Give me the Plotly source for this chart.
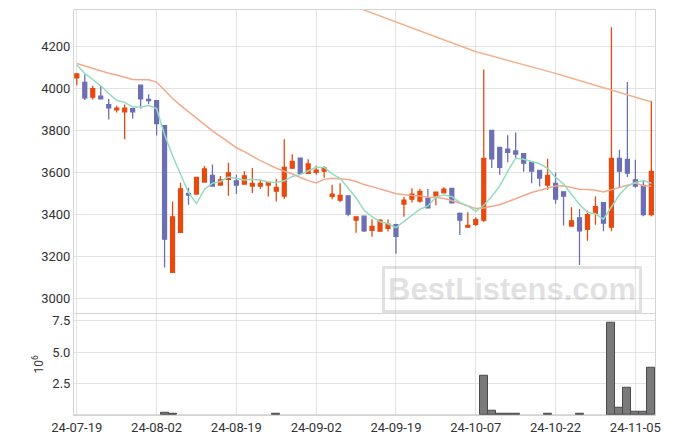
import pandas as pd
import plotly.graph_objects as go
from plotly.subplots import make_subplots

dates = [
    "24-07-19", "24-07-22", "24-07-23", "24-07-24", "24-07-25", "24-07-26", "24-07-29", "24-07-30",
    "24-07-31", "24-08-01", "24-08-02", "24-08-05", "24-08-06", "24-08-07", "24-08-08", "24-08-09",
    "24-08-12", "24-08-13", "24-08-14", "24-08-16", "24-08-19", "24-08-20", "24-08-21", "24-08-22",
    "24-08-23", "24-08-26", "24-08-27", "24-08-28", "24-08-29", "24-08-30", "24-09-02", "24-09-03",
    "24-09-04", "24-09-05", "24-09-06", "24-09-09", "24-09-10", "24-09-11", "24-09-12", "24-09-13",
    "24-09-19", "24-09-20", "24-09-23", "24-09-24", "24-09-25", "24-09-26", "24-09-27", "24-09-30",
    "24-10-02", "24-10-04", "24-10-07", "24-10-08", "24-10-10", "24-10-11", "24-10-14", "24-10-15",
    "24-10-16", "24-10-17", "24-10-18", "24-10-21", "24-10-22", "24-10-23", "24-10-24", "24-10-25",
    "24-10-28", "24-10-29", "24-10-30", "24-10-31", "24-11-01", "24-11-04", "24-11-05", "24-11-06",
    "24-11-07",
]

opens = [4049, 4027, 3957, 3962, 3922, 3897, 3887, 3903, 4014, 3946,
         3941, 3822, 3126, 3316, 3500, 3497, 3554, 3586, 3540, 3567,
         3560, 3544, 3535, 3535, 3540, 3511, 3487, 3621, 3668, 3595,
         3600, 3606, 3486, 3468, 3489, 3373, 3392, 3325, 3321, 3335,
         3352, 3449, 3473, 3464, 3476, 3489, 3503, 3524, 3405, 3340,
         3354, 3373, 3800, 3719, 3710, 3702, 3689, 3648, 3610, 3540,
         3548, 3508, 3345, 3384, 3330, 3406, 3457, 3340, 3667, 3662,
         3565, 3538, 3400]
highs = [4070, 4065, 4011, 4011, 3949, 3916, 3922, 3905, 4016, 3971,
         3943, 3824, 3462, 3551, 3527, 3578, 3630, 3638, 3583, 3646,
         3589, 3605, 3621, 3564, 3554, 3570, 3757, 3686, 3671, 3662,
         3632, 3629, 3541, 3548, 3491, 3391, 3395, 3378, 3378, 3376,
         3356, 3483, 3525, 3522, 3521, 3508, 3530, 3526, 3410, 3411,
         3387, 4089, 3802, 3721, 3776, 3790, 3692, 3650, 3612, 3665,
         3600, 3510, 3435, 3426, 3419, 3487, 3459, 4289, 3708, 4029,
         3660, 3560, 3940]
lows = [4014, 3944, 3946, 3948, 3851, 3884, 3757, 3856, 3903, 3924,
        3775, 3149, 3124, 3314, 3446, 3495, 3552, 3533, 3538, 3489,
        3498, 3542, 3502, 3522, 3486, 3462, 3475, 3616, 3594, 3592,
        3589, 3575, 3473, 3459, 3392, 3313, 3317, 3294, 3318, 3319,
        3214, 3389, 3457, 3456, 3430, 3444, 3502, 3455, 3303, 3337,
        3345, 3364, 3621, 3589, 3648, 3664, 3603, 3549, 3533, 3518,
        3451, 3348, 3343, 3160, 3275, 3352, 3321, 3321, 3530, 3578,
        3527, 3392, 3392]
closes = [4068, 3954, 3998, 3949, 3906, 3905, 3905, 3887, 3949, 3941,
          3832, 3283, 3389, 3522, 3492, 3576, 3617, 3535, 3565, 3598,
          3540, 3584, 3548, 3548, 3552, 3529, 3624, 3652, 3595, 3640,
          3611, 3621, 3497, 3491, 3402, 3389, 3322, 3344, 3373, 3354,
          3297, 3468, 3497, 3510, 3432, 3506, 3521, 3456, 3373, 3349,
          3376, 3667, 3664, 3624, 3695, 3687, 3644, 3606, 3573, 3586,
          3473, 3487, 3370, 3322, 3400, 3438, 3359, 3667, 3606, 3597,
          3535, 3400, 3605]

# volume in millions of shares
volumes = [0.004, 0.004, 0.004, 0.004, 0.004, 0.004, 0.004, 0.004, 0.004, 0.004,
           0.004, 0.18, 0.10, 0.004, 0.004, 0.004, 0.004, 0.004, 0.004, 0.004,
           0.004, 0.004, 0.004, 0.004, 0.004, 0.10, 0.004, 0.004, 0.004, 0.004,
           0.004, 0.004, 0.004, 0.004, 0.004, 0.004, 0.004, 0.004, 0.004, 0.004,
           0.004, 0.004, 0.004, 0.004, 0.004, 0.004, 0.004, 0.004, 0.004, 0.004,
           0.004, 3.15, 0.35, 0.10, 0.10, 0.10, 0.004, 0.004, 0.004, 0.08,
           0.004, 0.004, 0.004, 0.08, 0.004, 0.004, 0.004, 7.35, 0.60, 2.20,
           0.28, 0.28, 3.75]

# moving-average values at the start of the window (need earlier closes)
ma5_head = [4110, 4070, 4041, 4011]
ma20_head = [4117, 4105, 4094, 4083, 4071, 4062, 4051, 4041, 4040, 4040,
             4029, 3990, 3951, 3918, 3887, 3855, 3825, 3797, 3771]
# long moving average (only upper part visible)
ma120_start = 35
ma120_vals = [4385, 4371, 4357, 4343, 4329, 4316, 4302, 4288, 4274, 4260,
              4246, 4232, 4218, 4203, 4188, 4173, 4163, 4153, 4142, 4132,
              4122, 4111, 4101, 4091, 4080, 4070, 4059, 4047, 4036, 4025,
              4013, 4002, 3991, 3979, 3968, 3956, 3945, 3934]

cs = pd.Series(closes, dtype=float)
ma5 = ma5_head + list(cs.rolling(5).mean().iloc[len(ma5_head):])
ma20 = ma20_head + list(cs.rolling(20).mean().iloc[len(ma20_head):])
ma120 = [None] * ma120_start + ma120_vals

UP = "#E8490F"
DOWN = "#6B6FB4"
GRID = "#e3e3e3"
LINE = "#d4d4d4"

fig = make_subplots(rows=2, cols=1, shared_xaxes=True, vertical_spacing=0,
                    row_heights=[0.75, 0.25])

fig.add_trace(go.Candlestick(
    x=dates, open=opens, high=highs, low=lows, close=closes,
    increasing=dict(line=dict(color=UP, width=1.3), fillcolor=UP),
    decreasing=dict(line=dict(color=DOWN, width=1.3), fillcolor=DOWN),
    whiskerwidth=0, showlegend=False, name="price"), row=1, col=1)

fig.add_trace(go.Scatter(x=dates, y=ma20, mode="lines",
                         line=dict(color="#F2AA8C", width=1.5), showlegend=False), row=1, col=1)
fig.add_trace(go.Scatter(x=dates, y=ma120, mode="lines",
                         line=dict(color="#F0B38C", width=1.5), showlegend=False), row=1, col=1)
fig.add_trace(go.Scatter(x=dates, y=ma5, mode="lines",
                         line=dict(color="#93DCC0", width=1.5), showlegend=False), row=1, col=1)

bar_edge = [1 if v > 0.05 else 0 for v in volumes]
fig.add_trace(go.Bar(x=dates, y=volumes,
                     marker=dict(color="#7a7a7a", line=dict(color="#4a4a4a", width=bar_edge)),
                     showlegend=False), row=2, col=1)

tickv = dates[::10]
xrange = [-0.35, len(dates) - 1 + 0.46]
common_x = dict(type="category", range=xrange, tickvals=tickv, ticktext=tickv,
                showgrid=True, gridcolor=GRID, showline=True, linecolor=LINE, mirror=True,
                ticks="", automargin=False,
                tickfont=dict(family="Roboto", size=13, color="#333"))

fig.update_xaxes(**common_x)
fig.update_xaxes(showticklabels=False, rangeslider=dict(visible=False),
                 side="top", mirror=False, row=1, col=1)

fig.update_yaxes(range=[2929, 4371], tickvals=list(range(3000, 4201, 200)),
                 showgrid=True, gridcolor=GRID, zeroline=False, showline=True,
                 linecolor=LINE, mirror=True, ticks="", automargin=False,
                 tickfont=dict(family="Roboto", size=13, color="#333"), row=1, col=1)
fig.update_yaxes(range=[0, 8.05], tickvals=[2.5, 5.0, 7.5], ticktext=["2.5", "5.0", "7.5"],
                 showgrid=True, gridcolor=GRID, zeroline=False, showline=True,
                 linecolor=LINE, mirror=True, ticks="", automargin=False,
                 title=dict(text="10<sup>6</sup>", font=dict(family="Roboto", size=12, color="#333"),
                            standoff=6),
                 tickfont=dict(family="Roboto", size=13, color="#333"), row=2, col=1)

fig.add_annotation(xref="paper", yref="paper", x=0.754, y=0.311, text="<b>BestListens.com</b>",
                   showarrow=False, font=dict(family="Liberation Sans", size=31, color="rgba(170,170,170,0.35)"),
                   bordercolor="rgba(170,170,170,0.35)", borderwidth=3, borderpad=3,
                   xanchor="center", yanchor="middle")

fig.update_layout(width=675, height=444, margin=dict(l=74, r=20, t=10, b=29, autoexpand=False),
                  paper_bgcolor="white", plot_bgcolor="white", bargap=0, boxgap=0.3,
                  hovermode=False)

fig.write_html("out.html", config={"displayModeBar": False},
               post_script="document.body.style.margin='0';document.body.style.overflow='hidden';")
